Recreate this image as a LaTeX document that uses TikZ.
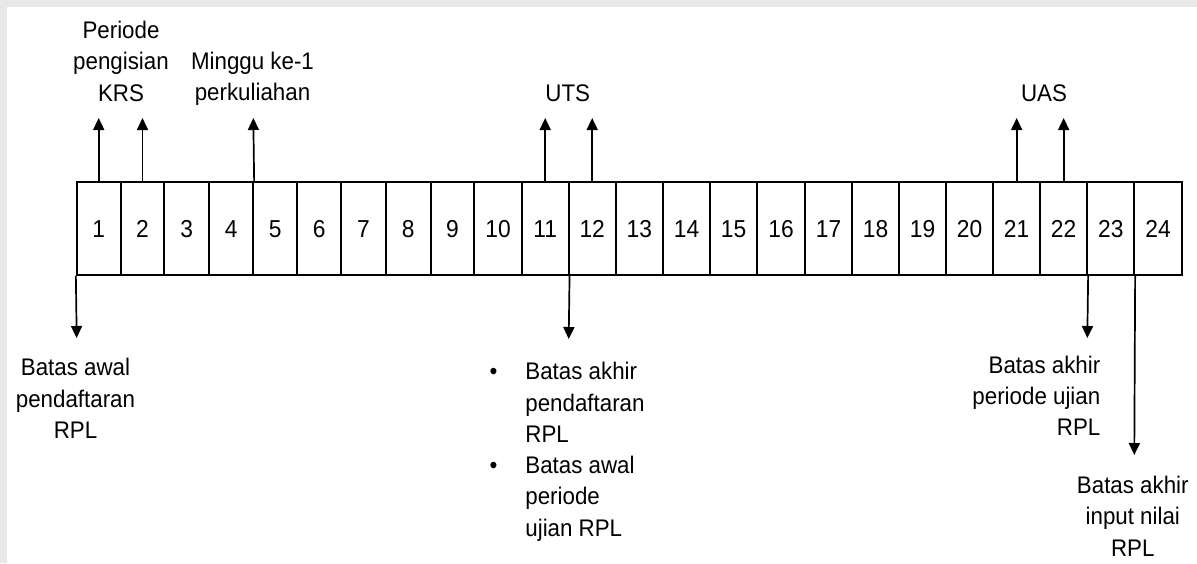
\documentclass[tikz,border=0pt]{standalone}
\usepackage{fontspec}
\setmainfont{Liberation Sans}[FakeStretch=0.93]
\usetikzlibrary{arrows.meta}
\begin{document}
\begin{tikzpicture}[x=1pt,y=-1pt,
  txt/.style={font=\fontsize{24}{31.3}\selectfont},
  lbl/.style={txt, inner sep=0pt},
  cell/.style={font=\fontsize{24.5}{31.3}\selectfont, draw, line width=1.7pt, inner sep=0pt,
    minimum height=92.7pt, text height=17.6pt, text depth=0pt},
  arr/.style={line width=1.7pt, -{Triangle[width=11pt,length=12pt]}}]
\useasboundingbox (0,0) rectangle (1197,563);
\fill[gray!18] (0,0) rectangle (1197,563);
\fill[white] (7,7) rectangle (1197,563);
% cells
\foreach \i/\l/\r in {1/76.7/120.7, 2/120.7/164.3, 3/164.3/209.3, 4/209.3/253.3,
  5/253.3/297.3, 6/297.3/341.3, 7/341.3/385.7, 8/385.7/430.7, 9/430.7/474.3,
  10/474.3/521.7, 11/521.7/568.7, 12/568.7/615.7, 13/615.7/663, 14/663/710,
  15/710/757, 16/757/805, 17/805/852, 18/852/899.3, 19/899.3/946,
  20/946/993.3, 21/993.3/1040, 22/1040/1087.3, 23/1087.3/1134.3, 24/1134.3/1181.7}
  {\node[cell, minimum width={(\r-\l)*1pt}] (c\i) at ({(\l+\r)/2},228.65) {\i};}
% tips
\coordinate (u1) at (98.7,118);
\coordinate (u2) at (142.5,118);
\coordinate (u4) at (253.3,118);
\coordinate (u11) at (545.2,118);
\coordinate (u12) at (592.2,118);
\coordinate (u21) at (1016.65,118);
\coordinate (u22) at (1063.65,118);
\coordinate (d1) at (76.7,338);
\coordinate (d11) at (568.7,339);
\coordinate (d22) at (1087.3,338);
\coordinate (d23) at (1134.3,455);
\draw[arr] (c1.north) -- (u1);
\draw[arr] (c2.north) -- (u2);
\draw[arr] (c4.north east) -- (u4);
\draw[arr] (c11.north) -- (u11);
\draw[arr] (c12.north) -- (u12);
\draw[arr] (c21.north) -- (u21);
\draw[arr] (c22.north) -- (u22);
\draw[arr] (c1.south west) -- (d1);
\draw[arr] (c11.south east) -- (d11);
\draw[arr] (c22.south east) -- (d22);
\draw[arr] (c23.south east) -- (d23);
% labels
\node[lbl, align=center, anchor=north] (krs) at (121,21) {Periode\\pengisian\\KRS};
\node[lbl, align=center, anchor=north] (mg) at (252.5,52) {Minggu ke-1\\perkuliahan};
\node[lbl, anchor=north] (uts) at (567.7,84.3) {UTS};
\node[lbl, anchor=north] (uas) at (1044,84.3) {UAS};
\node[lbl, align=center, anchor=north] (baw) at (75.5,358.3) {Batas awal\\pendaftaran\\RPL};
\node[lbl, anchor=north west] (blist) at (489.4,357.6)
  {\begin{tabular}{@{}l@{\hspace{28pt}}l@{}}
   \textbullet & Batas akhir\\
               & pendaftaran\\
               & RPL\\
   \textbullet & Batas awal\\
               & periode\\
               & ujian RPL
   \end{tabular}};
\node[lbl, align=right, anchor=north east] (bak) at (1100.5,355.8) {Batas akhir\\periode ujian\\RPL};
\node[lbl, align=center, anchor=north] (bin) at (1132.8,475.8) {Batas akhir\\input nilai\\RPL};
\end{tikzpicture}
\end{document}
